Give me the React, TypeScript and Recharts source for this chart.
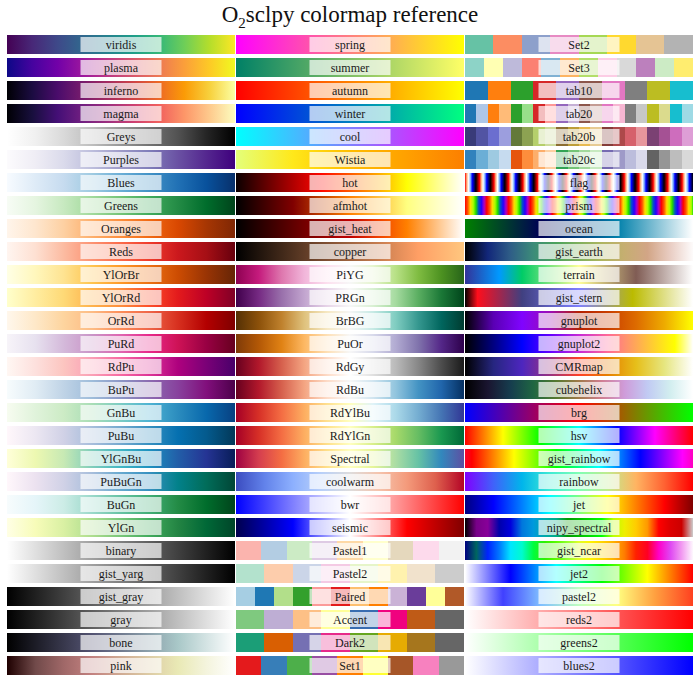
import React from "react";
import { BarChart, Bar, XAxis, YAxis, LabelList, Cell } from "recharts";

type Stop = string | [number, string];

const leftNames = [
  "viridis", "plasma", "inferno", "magma", "Greys", "Purples", "Blues", "Greens",
  "Oranges", "Reds", "YlOrBr", "YlOrRd", "OrRd", "PuRd", "RdPu", "BuPu", "GnBu",
  "PuBu", "YlGnBu", "PuBuGn", "BuGn", "YlGn", "binary", "gist_yarg", "gist_gray",
  "gray", "bone", "pink",
];
const middleNames = [
  "spring", "summer", "autumn", "winter", "cool", "Wistia", "hot", "afmhot",
  "gist_heat", "copper", "PiYG", "PRGn", "BrBG", "PuOr", "RdGy", "RdBu", "RdYlBu",
  "RdYlGn", "Spectral", "coolwarm", "bwr", "seismic", "Pastel1", "Pastel2",
  "Paired", "Accent", "Dark2", "Set1",
];
const rightNames = [
  "Set2", "Set3", "tab10", "tab20", "tab20b", "tab20c", "flag", "prism", "ocean",
  "gist_earth", "terrain", "gist_stern", "gnuplot", "gnuplot2", "CMRmap",
  "cubehelix", "brg", "hsv", "gist_rainbow", "rainbow", "jet", "nipy_spectral",
  "gist_ncar", "jet2", "pastel2", "reds2", "greens2", "blues2",
];

// qualitative maps are drawn as hard-edged blocks
const discreteNames = [
  "Pastel1", "Pastel2", "Paired", "Accent", "Dark2", "Set1", "Set2", "Set3",
  "tab10", "tab20", "tab20b", "tab20c",
];

// one period of the cyclic maps, and how many periods fit in the bar
const flagCycle = ["#ff0000", "#ffb480", "#ffffff", "#80b4ff", "#0000ff", "#000080", "#000000", "#800000"];
const flagPeriods = 15.75;
const prismCycle = ["#ff0000", "#ff5400", "#ffdb00", "#abff00", "#24db00", "#0054c6", "#2400ff", "#ab00c6"];
const prismPeriods = 10.45;

const leftStops: Stop[][] = [
  ["#440154", "#482878", "#3e4989", "#31688e", "#26828e", "#1f9e89", "#35b779", "#6ece58", "#b5de2b", "#fde725"],
  ["#0d0887", "#46039f", "#7201a8", "#9c179e", "#bd3786", "#d8576b", "#ed7953", "#fb9f3a", "#fdca26", "#f0f921"],
  ["#000004", "#1b0c41", "#4a0c6b", "#781c6d", "#a52c60", "#cf4446", "#ed6925", "#fb9b06", "#f7d13d", "#fcffa4"],
  ["#000004", "#180f3d", "#440f76", "#721f81", "#9e2f7f", "#cd4071", "#f1605d", "#fd9668", "#feca8d", "#fcfdbf"],
  ["#ffffff", "#f0f0f0", "#d9d9d9", "#bdbdbd", "#969696", "#737373", "#525252", "#252525", "#000000"],
  ["#fcfbfd", "#efedf5", "#dadaeb", "#bcbddc", "#9e9ac8", "#807dba", "#6a51a3", "#54278f", "#3f007d"],
  ["#f7fbff", "#deebf7", "#c6dbef", "#9ecae1", "#6baed6", "#4292c6", "#2171b5", "#08519c", "#08306b"],
  ["#f7fcf5", "#e5f5e0", "#c7e9c0", "#a1d99b", "#74c476", "#41ab5d", "#238b45", "#006d2c", "#00441b"],
  ["#fff5eb", "#fee6ce", "#fdd0a2", "#fdae6b", "#fd8d3c", "#f16913", "#d94801", "#a63603", "#7f2704"],
  ["#fff5f0", "#fee0d2", "#fcbba1", "#fc9272", "#fb6a4a", "#ef3b2c", "#cb181d", "#a50f15", "#67000d"],
  ["#ffffe5", "#fff7bc", "#fee391", "#fec44f", "#fe9929", "#ec7014", "#cc4c02", "#993404", "#662506"],
  ["#ffffcc", "#ffeda0", "#fed976", "#feb24c", "#fd8d3c", "#fc4e2a", "#e31a1c", "#bd0026", "#800026"],
  ["#fff7ec", "#fee8c8", "#fdd49e", "#fdbb84", "#fc8d59", "#ef6548", "#d7301f", "#b30000", "#7f0000"],
  ["#f7f4f9", "#e7e1ef", "#d4b9da", "#c994c7", "#df65b0", "#e7298a", "#ce1256", "#980043", "#67001f"],
  ["#fff7f3", "#fde0dd", "#fcc5c0", "#fa9fb5", "#f768a1", "#dd3497", "#ae017e", "#7a0177", "#49006a"],
  ["#f7fcfd", "#e0ecf4", "#bfd3e6", "#9ebcda", "#8c96c6", "#8c6bb1", "#88419d", "#810f7c", "#4d004b"],
  ["#f7fcf0", "#e0f3db", "#ccebc5", "#a8ddb5", "#7bccc4", "#4eb3d3", "#2b8cbe", "#0868ac", "#084081"],
  ["#fff7fb", "#ece7f2", "#d0d1e6", "#a6bddb", "#74a9cf", "#3690c0", "#0570b0", "#045a8d", "#023858"],
  ["#ffffd9", "#edf8b1", "#c7e9b4", "#7fcdbb", "#41b6c4", "#1d91c0", "#225ea8", "#253494", "#081d58"],
  ["#fff7fb", "#ece2f0", "#d0d1e6", "#a6bddb", "#67a9cf", "#3690c0", "#02818a", "#016c59", "#014636"],
  ["#f7fcfd", "#e5f5f9", "#ccece6", "#99d8c9", "#66c2a4", "#41ae76", "#238b45", "#006d2c", "#00441b"],
  ["#ffffe5", "#f7fcb9", "#d9f0a3", "#addd8e", "#78c679", "#41ab5d", "#238443", "#006837", "#004529"],
  ["#ffffff", "#000000"],
  ["#ffffff", "#000000"],
  ["#000000", "#ffffff"],
  ["#000000", "#ffffff"],
  [[0, "#000000"], [0.375, "#545473"], [0.75, "#a9c8c8"], [1, "#ffffff"]],
  ["#1e0000", "#714a4a", "#a06868", "#c38280", "#d0ab93", "#ddcca5", "#e9e9b5", "#f4f4dd", "#ffffff"],
];

const middleStops: Stop[][] = [
  ["#ff00ff", "#ffff00"],
  ["#008066", "#ffff66"],
  ["#ff0000", "#ffff00"],
  ["#0000ff", "#00ff80"],
  ["#00ffff", "#ff00ff"],
  ["#e4ff7a", "#ffe81a", "#ffbd00", "#ffa000", "#fc7f00"],
  ["#0b0000", "#5e0000", "#b00000", "#ff0700", "#ff5900", "#ffab00", "#ffff04", "#ffff84", "#ffffff"],
  ["#000000", "#400000", "#800000", "#c04000", "#ff8000", "#ffc040", "#ffff80", "#ffffc0", "#ffffff"],
  ["#000000", "#300000", "#600000", "#900000", "#c00000", "#f04000", "#ff8000", "#ffc080", "#ffffff"],
  ["#000000", "#402819", "#805033", "#bf784c", "#ff9f65", "#ffc77f"],
  ["#8e0152", "#c51b7d", "#de77ae", "#f1b6da", "#fde0ef", "#f7f7f7", "#e6f5d0", "#b8e186", "#7fbc41", "#4d9221", "#276419"],
  ["#40004b", "#762a83", "#9970ab", "#c2a5cf", "#e7d4e8", "#f7f7f7", "#d9f0d3", "#a6dba0", "#5aae61", "#1b7837", "#00441b"],
  ["#543005", "#8c510a", "#bf812d", "#dfc27d", "#f6e8c3", "#f5f5f5", "#c7eae5", "#80cdc1", "#35978f", "#01665e", "#003c30"],
  ["#7f3b08", "#b35806", "#e08214", "#fdb863", "#fee0b6", "#f7f7f7", "#d8daeb", "#b2abd2", "#8073ac", "#542788", "#2d004b"],
  ["#67001f", "#b2182b", "#d6604d", "#f4a582", "#fddbc7", "#ffffff", "#e0e0e0", "#bababa", "#878787", "#4d4d4d", "#1a1a1a"],
  ["#67001f", "#b2182b", "#d6604d", "#f4a582", "#fddbc7", "#f7f7f7", "#d1e5f0", "#92c5de", "#4393c3", "#2166ac", "#053061"],
  ["#a50026", "#d73027", "#f46d43", "#fdae61", "#fee090", "#ffffbf", "#e0f3f8", "#abd9e9", "#74add1", "#4575b4", "#313695"],
  ["#a50026", "#d73027", "#f46d43", "#fdae61", "#fee08b", "#ffffbf", "#d9ef8b", "#a6d96a", "#66bd63", "#1a9850", "#006837"],
  ["#9e0142", "#d53e4f", "#f46d43", "#fdae61", "#fee08b", "#ffffbf", "#e6f598", "#abdda4", "#66c2a5", "#3288bd", "#5e4fa2"],
  ["#3b4cc0", "#6282ea", "#8db0fe", "#b8d0f9", "#dddcdc", "#f5c4ad", "#f49a7b", "#de604d", "#b40426"],
  ["#0000ff", "#ffffff", "#ff0000"],
  ["#00004d", "#0000ff", "#ffffff", "#ff0000", "#800000"],
  ["#fbb4ae", "#b3cde3", "#ccebc5", "#decbe4", "#fed9a6", "#ffffcc", "#e5d8bd", "#fddaec", "#f2f2f2"],
  ["#b3e2cd", "#fdcdac", "#cbd5e8", "#f4cae4", "#e6f5c9", "#fff2ae", "#f1e2cc", "#cccccc"],
  ["#a6cee3", "#1f78b4", "#b2df8a", "#33a02c", "#fb9a99", "#e31a1c", "#fdbf6f", "#ff7f00", "#cab2d6", "#6a3d9a", "#ffff99", "#b15928"],
  ["#7fc97f", "#beaed4", "#fdc086", "#ffff99", "#386cb0", "#f0027f", "#bf5b17", "#666666"],
  ["#1b9e77", "#d95f02", "#7570b3", "#e7298a", "#66a61e", "#e6ab02", "#a6761d", "#666666"],
  ["#e41a1c", "#377eb8", "#4daf4a", "#984ea3", "#ff7f00", "#ffff33", "#a65628", "#f781bf", "#999999"],
];

const rightStops: Stop[][] = [
  ["#66c2a5", "#fc8d62", "#8da0cb", "#e78ac3", "#a6d854", "#ffd92f", "#e5c494", "#b3b3b3"],
  ["#8dd3c7", "#ffffb3", "#bebada", "#fb8072", "#80b1d3", "#fdb462", "#b3de69", "#fccde5", "#d9d9d9", "#bc80bd", "#ccebc5", "#ffed6f"],
  ["#1f77b4", "#ff7f0e", "#2ca02c", "#d62728", "#9467bd", "#8c564b", "#e377c2", "#7f7f7f", "#bcbd22", "#17becf"],
  ["#1f77b4", "#aec7e8", "#ff7f0e", "#ffbb78", "#2ca02c", "#98df8a", "#d62728", "#ff9896", "#9467bd", "#c5b0d5",
    "#8c564b", "#c49c94", "#e377c2", "#f7b6d2", "#7f7f7f", "#c7c7c7", "#bcbd22", "#dbdb8d", "#17becf", "#9edae5"],
  ["#393b79", "#5254a3", "#6b6ecf", "#9c9ede", "#637939", "#8ca252", "#b5cf6b", "#cedb9c", "#8c6d31", "#bd9e39",
    "#e7ba52", "#e7cb94", "#843c39", "#ad494a", "#d6616b", "#e7969c", "#7b4173", "#a55194", "#ce6dbd", "#de9ed6"],
  ["#3182bd", "#6baed6", "#9ecae1", "#c6dbef", "#e6550d", "#fd8d3c", "#fdae6b", "#fdd0a2", "#31a354", "#74c476",
    "#a1d99b", "#c7e9c0", "#756bb1", "#9e9ac8", "#bcbddc", "#dadaeb", "#636363", "#969696", "#bdbdbd", "#d9d9d9"],
  [], // flag, built from flagCycle
  [], // prism, built from prismCycle
  ["#008000", "#00402b", "#000055", "#004080", "#0080aa", "#80bfd4", "#ffffff"],
  ["#000000", "#12277a", "#2f5e87", "#3c8c79", "#4ba25b", "#7fb05d", "#afb560", "#c6ae71", "#d2a586", "#e9cdc3", "#fdfbfb"],
  [[0, "#333399"], [0.15, "#0099ff"], [0.25, "#00cc66"], [0.5, "#ffff99"], [0.75, "#805c54"], [1, "#ffffff"]],
  [[0, "#000000"], [0.055, "#ff0e1c"], [0.25, "#404080"], [0.5, "#8080ff"], [0.735, "#bbbb00"], [1, "#ffffff"]],
  ["#000000", "#5a00b4", "#8004ff", "#9c0eb4", "#b42000", "#c93e00", "#dd6b00", "#eeab00", "#ffff00"],
  [[0, "#000000"], [0.125, "#000080"], [0.25, "#0000ff"], [0.375, "#6400ff"], [0.5, "#c729d6"], [0.625, "#ff6996"],
    [0.75, "#ffa857"], [0.875, "#ffe817"], [0.92, "#ffff00"], [1, "#ffffff"]],
  ["#000000", "#262680", "#4d26bf", "#993380", "#ff4026", "#e68000", "#e6bf1a", "#e6e680", "#ffffff"],
  ["#000000", "#1a1530", "#163d4e", "#1f6642", "#54792f", "#a07949", "#d07e93", "#cf9cda", "#c1caf3", "#d2eeef", "#ffffff"],
  ["#0000ff", "#ff0000", "#00ff00"],
  ["#ff0000", "#ffff00", "#00ff00", "#00ffff", "#0000ff", "#ff00ff", "#ff0000"],
  [[0, "#ff0029"], [0.03, "#ff0000"], [0.215, "#ffff00"], [0.4, "#00ff00"], [0.586, "#00ffff"], [0.77, "#0000ff"],
    [0.954, "#ff00ff"], [1, "#ff00bf"]],
  ["#8000ff", "#4062fa", "#00b5eb", "#40ebd4", "#80ffb4", "#c0eb8e", "#ffb462", "#ff6232", "#ff0000"],
  ["#00007f", "#0000ff", "#007fff", "#00ffff", "#7fff7f", "#ffff00", "#ff7f00", "#ff0000", "#7f0000"],
  ["#000000", "#780088", "#880099", "#0000aa", "#0000dd", "#0077dd", "#0099dd", "#00aaaa", "#00aa88", "#009900", "#00bb00",
    "#00dd00", "#00ff00", "#bbff00", "#eeee00", "#ffcc00", "#ff9900", "#ff0000", "#dd0000", "#cc0000", "#cccccc"],
  ["#000080", "#00665e", "#0022ff", "#0077ff", "#00e6ff", "#00fbce", "#00fd3f", "#2ff000", "#5afb00", "#90ff2c", "#e1fe28",
    "#fff300", "#ffd500", "#ffb100", "#ff7b00", "#ff2000", "#ff0023", "#ff00c8", "#df46f2", "#f29af1", "#fef8fe"],
  ["#ffffff", "#0000ff", "#00ffff", "#00ff00", "#ffff00", "#ff0000"],
  ["#ffffff", "#4040ff", "#80c0ff", "#c0ffc0", "#ffff80", "#ffa040", "#ff4020"],
  ["#ffffff", "#ff0000"],
  ["#ffffff", "#00ff00"],
  ["#ffffff", "#0000ff"],
];

const rows = leftNames.map((name, i) => ({
  row: i,
  left: 1,
  middle: 1,
  right: 1,
  leftName: name,
  middleName: middleNames[i],
  rightName: rightNames[i],
}));

function cyclic(cycle: string[], periods: number): Stop[] {
  const steps = Math.ceil(cycle.length * periods);
  const out: Stop[] = [];
  for (let j = 0; j <= steps; j++) {
    out.push([Math.min(1, j / (cycle.length * periods)), cycle[j % cycle.length]]);
  }
  return out;
}

function stopsFor(name: string, list: Stop[]): [number, string][] {
  if (name === "flag") list = cyclic(flagCycle, flagPeriods);
  if (name === "prism") list = cyclic(prismCycle, prismPeriods);
  if (discreteNames.includes(name)) {
    const n = list.length;
    const out: [number, string][] = [];
    list.forEach((c, i) => {
      out.push([i / n, c as string]);
      out.push([(i + 1) / n, c as string]);
    });
    return out;
  }
  return list.map((s, i) =>
    typeof s === "string" ? [list.length > 1 ? i / (list.length - 1) : 0, s] : s
  );
}

function Gradient({ name, list }: { name: string; list: Stop[] }) {
  return (
    <linearGradient id={`cm-${name}`} x1="0" y1="0" x2="1" y2="0">
      {stopsFor(name, list).map(([o, c], k) => (
        <stop key={k} offset={o} stopColor={c} />
      ))}
    </linearGradient>
  );
}

function CmapBar(props: any) {
  const { x, y, width, height, fill } = props;
  return <rect x={x} y={y} width={width - 1} height={height} fill={fill} />;
}

function CmapLabel(props: any) {
  const { x, y, width, height, value } = props;
  const cx = x + (width - 1) / 2;
  const cy = y + height / 2;
  return (
    <g>
      <rect x={cx - 40.5} y={cy - 7.5} width={81} height={15} fill="#ffffff" fillOpacity={0.7} />
      <text
        x={cx}
        y={cy + 4}
        textAnchor="middle"
        fontFamily="'Liberation Serif', serif"
        fontSize={12}
        fill="#1a1a1a"
      >
        {value}
      </text>
    </g>
  );
}

const columns = [
  { key: "left", label: "leftName", names: leftNames, stops: leftStops },
  { key: "middle", label: "middleName", names: middleNames, stops: middleStops },
  { key: "right", label: "rightName", names: rightNames, stops: rightStops },
];

export default function App() {
  return (
    <div style={{ position: "absolute", left: 0, top: 0, width: 700, height: 689, background: "#fff" }}>
      <div
        style={{
          position: "absolute",
          left: 0,
          top: 2,
          width: 700,
          textAlign: "center",
          fontFamily: "'Liberation Serif', serif",
          fontSize: 23,
          color: "#111",
        }}
      >
        O<sub style={{ fontSize: 15 }}>2</sub>sclpy colormap reference
      </div>
      <BarChart
        width={700}
        height={689}
        data={rows}
        layout="vertical"
        margin={{ top: 33, right: 6, bottom: 12, left: 7 }}
        barCategoryGap={2}
        style={{ position: "absolute", left: 0, top: 0 }}
      >
        <defs>
          {columns.map((col) =>
            col.names.map((n, i) => <Gradient key={n} name={n} list={col.stops[i]} />)
          )}
        </defs>
        <XAxis type="number" domain={[0, 3]} hide />
        <YAxis type="category" dataKey="row" hide />
        {columns.map((col) => (
          <Bar
            key={col.key}
            dataKey={col.key}
            stackId="cm"
            isAnimationActive={false}
            shape={CmapBar}
          >
            {col.names.map((n) => (
              <Cell key={n} fill={`url(#cm-${n})`} />
            ))}
            <LabelList dataKey={col.label} content={CmapLabel} />
          </Bar>
        ))}
      </BarChart>
    </div>
  );
}
